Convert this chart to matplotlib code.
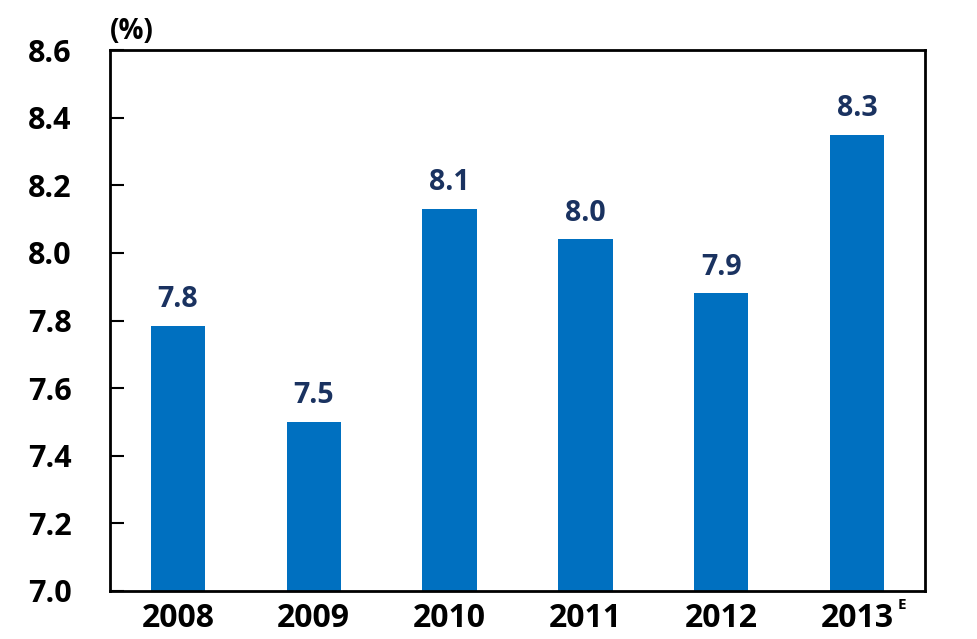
import matplotlib
matplotlib.use("Agg")
import matplotlib.pyplot as plt

years = ["2008", "2009", "2010", "2011", "2012", "2013"]
values = [7.785, 7.50, 8.13, 8.04, 7.88, 8.35]
labels = ["7.8", "7.5", "8.1", "8.0", "7.9", "8.3"]
yticks = [7.0, 7.2, 7.4, 7.6, 7.8, 8.0, 8.2, 8.4, 8.6]

plt.rcParams['font.family'] = ['Open Sans', 'DejaVu Sans']
plt.rcParams['font.weight'] = 'bold'

fig = plt.figure(figsize=(9.78, 6.39), dpi=100)
ax = fig.add_axes([110/978, 1-591/639, (925-110)/978, (591-50)/639])

x = list(range(len(years)))
ax.bar(x, values, width=0.4, color="#0070C0", zorder=2)
for xi, v, lab in zip(x, values, labels):
    ax.text(xi, v + 0.035, lab, ha="center", va="bottom", fontsize=20.5,
            fontweight="bold", color="#1A3260")

ax.set_xlim(-0.5, 5.5)
ax.set_ylim(7.0, 8.6)
ax.set_yticks(yticks)
ax.set_yticklabels([f"{t:.1f}" for t in yticks], fontsize=22, fontweight="bold")
ax.set_xticks(x)
ax.set_xticklabels(years, fontsize=23, fontweight="bold")
ax.tick_params(axis="y", direction="in", length=10, width=1.5, pad=59, left=True)
ax.tick_params(axis="x", length=0, pad=8)
for lab in ax.get_yticklabels():
    lab.set_horizontalalignment("left")
for s in ax.spines.values():
    s.set_linewidth(2)
    s.set_color("black")

ax.text(5.3, 6.98, "E", transform=ax.transData, fontsize=11, fontweight="bold",
        va="top", ha="left")
ax.text(0.0, 1.008, "(%)", transform=ax.transAxes, fontsize=20, fontweight="bold",
        ha="left", va="bottom")

fig.savefig("out.png", dpi=100)
